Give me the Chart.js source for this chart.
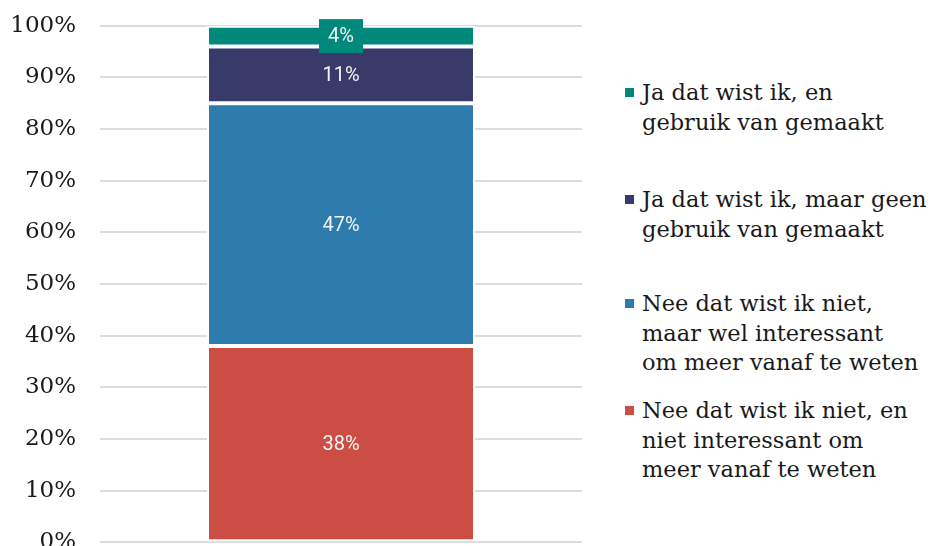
<!DOCTYPE html>
<html>
<head>
<meta charset="utf-8">
<script src="https://cdn.jsdelivr.net/npm/chart.js@4.4.1/dist/chart.umd.min.js"></script>
<style>
  html, body { margin: 0; padding: 0; background: #fff; overflow: hidden; }
  #wrap { position: absolute; left: 0; top: -12px; width: 582px; height: 592px; }
  #legend { position: absolute; left: 0; top: 0; }
  .item { position: absolute; left: 622px; white-space: nowrap; font-family: "DejaVu Serif", serif; font-size: 22.5px; line-height: 29.5px; color: #1a1a1a; }
  .item .box { position: absolute; left: 3px; top: 10px; width: 9px; height: 9px; }
  .item .txt { margin-left: 20px; }
</style>
</head>
<body>
<div id="wrap"><canvas id="chart"></canvas></div>
<div id="legend"></div>
<script>
console.log("JS Loaded");
/* global Chart */
const categories = [''];
const seriesNames = [
    'Nee dat wist ik niet, en niet interessant om meer vanaf te weten',
    'Nee dat wist ik niet, maar wel interessant om meer vanaf te weten',
    'Ja dat wist ik, maar geen gebruik van gemaakt',
    'Ja dat wist ik, en gebruik van gemaakt'
];
// legend lines as they wrap in the picture
const legendLines = [
    ['Nee dat wist ik niet, en', 'niet interessant om', 'meer vanaf te weten'],
    ['Nee dat wist ik niet,', 'maar wel interessant', 'om meer vanaf te weten'],
    ['Ja dat wist ik, maar geen', 'gebruik van gemaakt'],
    ['Ja dat wist ik, en', 'gebruik van gemaakt']
];
const seriesValues = [38, 47, 11, 4];
const colors = ['#cb4d44', '#2e7bad', '#383b69', '#00887a'];
const yTicks = [0, 10, 20, 30, 40, 50, 60, 70, 80, 90, 100];
const legendTops = [396, 289, 185, 78];

const ctx = document.getElementById('chart').getContext('2d');

const segmentLabels = {
    id: 'segmentLabels',
    afterDatasetsDraw(chart) {
        const c = chart.ctx;
        c.save();
        c.font = '20px Roboto';
        c.textAlign = 'center';
        c.textBaseline = 'middle';
        chart.data.datasets.forEach(function (ds, i) {
            const bar = chart.getDatasetMeta(i).data[0];
            const p = bar.getProps(['x', 'y', 'base'], true);
            const cy = (p.y + p.base) / 2;
            const txt = ds.data[0] + '%';
            if (ds.data[0] < 5) {
                c.fillStyle = ds.backgroundColor;
                c.fillRect(p.x - 22, cy - 17, 44, 34);
            }
            c.fillStyle = '#f4f4f4';
            c.fillText(txt, p.x, cy + 1);
        });
        c.restore();
    }
};

new Chart(ctx, {
    type: 'bar',
    data: {
        labels: categories,
        datasets: seriesNames.map(function (name, i) {
            return {
                label: name,
                data: [seriesValues[i]],
                backgroundColor: colors[i],
                borderColor: '#ffffff',
                borderWidth: 2,
                borderSkipped: false,
                barPercentage: 1,
                categoryPercentage: 0.556
            };
        })
    },
    options: {
        responsive: true,
        maintainAspectRatio: false,
        animation: false,
        layout: { padding: { top: 0, right: 0, bottom: 0, left: 0 } },
        plugins: {
            legend: { display: false },
            tooltip: { enabled: false }
        },
        scales: {
            x: {
                stacked: true,
                grid: { display: false },
                border: { display: false },
                ticks: { display: false }
            },
            y: {
                stacked: true,
                min: 0,
                max: 100,
                afterBuildTicks: function (scale) {
                    scale.ticks = yTicks.map(v => ({ value: v }));
                },
                afterFit: function (scale) {
                    scale.width = 100;
                },
                border: { display: false },
                grid: { color: '#dcdcdc', lineWidth: 2, drawTicks: false },
                ticks: {
                    padding: 24,
                    color: '#1a1a1a',
                    font: { family: 'DejaVu Serif', size: 23 },
                    callback: v => v + '%'
                }
            }
        }
    },
    plugins: [segmentLabels]
});

const legend = document.getElementById('legend');
legendLines.forEach(function (lines, i) {
    const item = document.createElement('div');
    item.classList.add('item');
    item.style.top = legendTops[i] + 'px';
    const box = document.createElement('div');
    box.classList.add('box');
    box.style.backgroundColor = colors[i];
    const txt = document.createElement('div');
    txt.classList.add('txt');
    txt.innerHTML = lines.join('<br>');
    item.appendChild(box);
    item.appendChild(txt);
    legend.appendChild(item);
});
</script>
</body>
</html>
